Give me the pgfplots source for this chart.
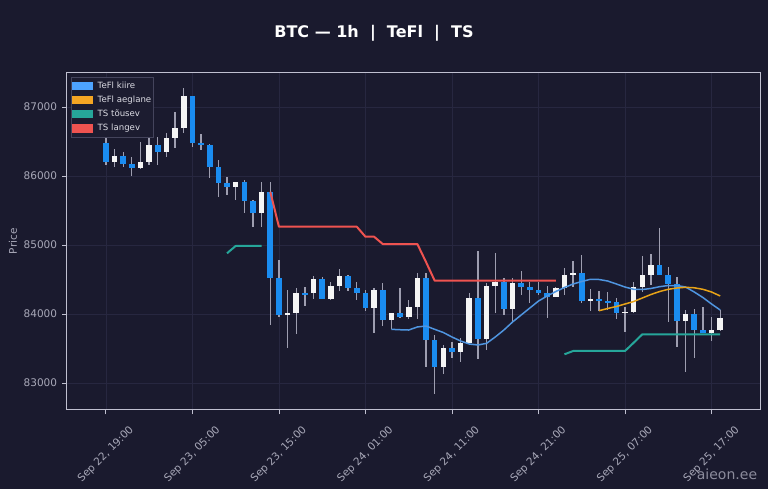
\documentclass[border=0pt]{standalone}
\usepackage{fontspec}
\setmainfont{DejaVu Sans}
\usepackage{pgfplots}
\usepackage{pgfplotstable}
\pgfplotsset{compat=1.18}

\definecolor{bg}{HTML}{1A1A2E}
\definecolor{gridc}{HTML}{272740}
\definecolor{framec}{HTML}{C0C0D0}
\definecolor{tickc}{HTML}{A8A8B8}
\definecolor{wickc}{HTML}{9E9EB0}
\definecolor{bullc}{HTML}{F5F5F5}
\definecolor{bearc}{HTML}{1A8CF0}
\definecolor{kiirec}{HTML}{4F95E0}
\definecolor{kiireP}{HTML}{4DA3FF}
\definecolor{aeglc}{HTML}{E8A317}
\definecolor{aeglP}{HTML}{F5A623}
\definecolor{upc}{HTML}{26A69A}
\definecolor{dnc}{HTML}{EF5350}
\definecolor{legbg}{HTML}{1C1C30}
\definecolor{legborder}{HTML}{44445C}
\definecolor{legtext}{HTML}{DCDCE4}

% hour index: 0 = Sep 22, 19:00
\pgfplotstableread{
t o h l c
1 86199 86387 86135 86290
4 86112 86488 86101 86199
5 86199 86570 86159 86449
7 86352 86619 86280 86546
8 86546 86932 86410 86700
9 86700 87271 86619 87159
15 85845 85917 85652 85917
18 85468 85917 85265 85772
21 83986 84348 83503 84019
22 84019 84372 83710 84309
24 84300 84551 84213 84503
26 84217 84468 84203 84410
27 84410 84648 84338 84555
31 84083 84372 83729 84348
33 83913 84019 83778 84019
35 83952 84203 83923 84097
36 84097 84590 83928 84526
39 83236 83551 83130 83503
41 83454 83648 83309 83575
42 83575 84309 83575 84236
44 83633 84445 83478 84406
45 84406 84888 84019 84468
47 84068 84517 83865 84454
52 84251 84396 84251 84381
53 84381 84662 84275 84565
54 84565 84770 84390 84599
56 84188 84358 84048 84213
60 84019 84097 83744 84033
61 84033 84468 84010 84396
62 84396 84841 84323 84565
63 84565 84865 84420 84710
67 83903 84058 83164 84000
70 83729 83961 83613 83768
71 83768 84058 83758 83938
}\bulltab

\pgfplotstableread{
t o h l c
0 86474 86570 86159 86207
2 86290 86352 86135 86170
3 86175 86280 86004 86112
6 86449 86570 86159 86352
10 87159 87159 86425 86474
11 86474 86604 86377 86449
12 86449 86459 85967 86135
13 86135 86232 85700 85894
14 85894 85990 85725 85845
16 85917 85942 85459 85638
17 85638 85652 85265 85468
19 85772 85917 83841 84517
20 84517 84783 83961 83986
23 84309 84396 84116 84285
25 84503 84541 84213 84217
28 84555 84565 84338 84381
29 84381 84468 84203 84300
30 84300 84348 84048 84083
32 84348 84445 83830 83913
34 84019 84372 83938 83952
37 84526 84590 83236 83623
38 83623 83696 82841 83236
40 83503 83599 83358 83454
43 84236 84913 83343 83633
46 84468 84526 83986 84068
48 84454 84623 84275 84387
49 84387 84468 84155 84348
50 84348 84468 84275 84300
51 84300 84406 83938 84251
55 84599 84855 84155 84188
57 84213 84333 84048 84188
58 84188 84323 84058 84160
59 84178 84227 83923 84019
64 84710 85242 84565 84565
65 84565 84686 83888 84430
66 84430 84541 83526 83903
68 84000 84068 83358 83768
69 83768 84097 83720 83729
}\beartab

\begin{document}
\begin{tikzpicture}
\fill[bg] (0pt,0pt) rectangle (768pt,489pt);
\begin{axis}[
  at={(66.5pt,79pt)}, anchor=south west,
  scale only axis, width=693.5pt, height=337.3pt,
  xmin=-4.55, xmax=75.6, ymin=82609, ymax=87497,
  axis line style={draw=framec, line width=1pt},
  grid=major, major grid style={draw=gridc, line width=0.6pt},
  tick pos=left, tick align=outside, major tick length=4.5pt,
  tick style={draw=framec, line width=0.8pt},
  xtick={0,10,...,70},
  xticklabels={{Sep 22, 19:00},{Sep 23, 05:00},{Sep 23, 15:00},{Sep 24, 01:00},
               {Sep 24, 11:00},{Sep 24, 21:00},{Sep 25, 07:00},{Sep 25, 17:00}},
  ytick={83000,84000,...,87000},
  scaled y ticks=false,
  /pgf/number format/1000 sep={},
  /pgf/number format/assume math mode=true,
  tick label style={font=\fontsize{10.5}{12}\selectfont, text=tickc},
  xticklabel style={rotate=45, anchor=center, inner sep=0pt},
  xticklabel shift=40pt,
  yticklabel style={anchor=east, inner sep=0pt},
  yticklabel shift=4.7pt,
  ylabel={Price},
  every axis y label/.style={at={([xshift=-53.5pt]axis description cs:0,0.5)},
    rotate=90, anchor=center, font=\fontsize{10.5}{12}\selectfont, text=tickc},
  legend cell align=left,
  legend style={at={(0,1)}, anchor=north west, xshift=4.5pt, yshift=-4pt,
    fill=legbg, draw=legborder, line width=0.6pt, text=legtext,
    font=\fontsize{8.6}{10}\selectfont,
    inner xsep=1pt, inner ysep=3.5pt, row sep=3.3pt,
    nodes={inner sep=1.2pt, text height=6.6pt, text depth=1.8pt},
    /tikz/every odd column/.style={column sep=3.6pt}},
]
% wicks
\addplot[draw=none, forget plot, error bars/.cd, y dir=both, y explicit,
  error mark=none, error bar style={draw=wickc, line width=1.3pt}]
  table[x=t, y expr={(\thisrow{h}+\thisrow{l})/2},
        y error expr={(\thisrow{h}-\thisrow{l})/2}] {\bulltab};
\addplot[draw=none, forget plot, error bars/.cd, y dir=both, y explicit,
  error mark=none, error bar style={draw=wickc, line width=1.3pt}]
  table[x=t, y expr={(\thisrow{h}+\thisrow{l})/2},
        y error expr={(\thisrow{h}-\thisrow{l})/2}] {\beartab};
% bodies
\addplot[draw=none, forget plot, error bars/.cd, y dir=both, y explicit,
  error mark=none, error bar style={draw=bullc, line width=5.6pt}]
  table[x=t, y expr={(\thisrow{o}+\thisrow{c})/2},
        y error expr={abs(\thisrow{c}-\thisrow{o})/2}] {\bulltab};
\addplot[draw=none, forget plot, error bars/.cd, y dir=both, y explicit,
  error mark=none, error bar style={draw=bearc, line width=5.6pt}]
  table[x=t, y expr={(\thisrow{o}+\thisrow{c})/2},
        y error expr={abs(\thisrow{c}-\thisrow{o})/2}] {\beartab};

% TS langev
\addplot[dnc, line width=2pt, line join=round, forget plot] coordinates {
  (19,85772) (20,85265) (21,85265) (22,85265) (23,85265) (24,85265) (25,85265)
  (26,85265) (27,85265) (28,85265) (29,85265) (30,85120) (31,85120) (32,85014)
  (33,85014) (34,85014) (35,85014) (36,85014) (37,84754) (38,84483) (39,84483)
  (40,84483) (41,84483) (42,84483) (43,84483) (44,84483) (45,84483) (46,84483)
  (47,84483) (48,84483) (49,84483) (50,84483) (51,84483) (52,84483)
};
% TS tousev
\addplot[upc, line width=2pt, line join=round, forget plot] coordinates {
  (14,84880) (15,84986) (16,84986) (17,84986) (18,84986)
};
\addplot[upc, line width=2pt, line join=round, forget plot] coordinates {
  (53,83416) (54,83464) (55,83464) (56,83464) (57,83464) (58,83464) (59,83464)
  (60,83464) (61,83584) (62,83706) (63,83706) (64,83706) (65,83706) (66,83706)
  (67,83706) (68,83706) (69,83706) (70,83706) (71,83706)
};
% TeFl kiire
\addplot[kiirec, line width=1.5pt, line join=round, forget plot] coordinates {
  (33,83778) (34,83772) (35,83768) (36,83812) (37,83826) (38,83778) (39,83732)
  (40,83667) (41,83609) (42,83565) (43,83551) (44,83575) (45,83667) (46,83768)
  (47,83884) (48,83986) (49,84087) (50,84188) (51,84261) (52,84326) (53,84384)
  (54,84435) (55,84471) (56,84503) (57,84500) (58,84478) (59,84435) (60,84391)
  (61,84358) (62,84355) (63,84370) (64,84396) (65,84413) (66,84413) (67,84391)
  (68,84319) (69,84239) (70,84145) (71,84058)
};
% TeFl aeglane
\addplot[aeglc, line width=1.5pt, line join=round, forget plot] coordinates {
  (57,84048) (58,84080) (59,84109) (60,84145) (61,84181) (62,84232) (63,84283)
  (64,84326) (65,84358) (66,84377) (67,84387) (68,84380) (69,84358) (70,84319)
  (71,84261)
};

\addlegendimage{legend image code/.code={\fill[kiireP] (0pt,-3.65pt) rectangle (20pt,3.65pt);}}
\addlegendentry{TeFl kiire}
\addlegendimage{legend image code/.code={\fill[aeglP] (0pt,-3.65pt) rectangle (20pt,3.65pt);}}
\addlegendentry{TeFl aeglane}
\addlegendimage{legend image code/.code={\fill[upc] (0pt,-3.65pt) rectangle (20pt,3.65pt);}}
\addlegendentry{TS tõusev}
\addlegendimage{legend image code/.code={\fill[dnc] (0pt,-3.65pt) rectangle (20pt,3.65pt);}}
\addlegendentry{TS langev}
\end{axis}
\node[font=\fontsize{16}{19}\selectfont\bfseries, text=white] at (374pt,456pt)
  {BTC — 1h\ \ |\ \ TeFl\ \ |\ \ TS};
\node[font=\fontsize{14}{16}\selectfont, text=tickc, opacity=0.8] at (727pt,15pt) {aieon.ee};
\end{tikzpicture}
\end{document}
